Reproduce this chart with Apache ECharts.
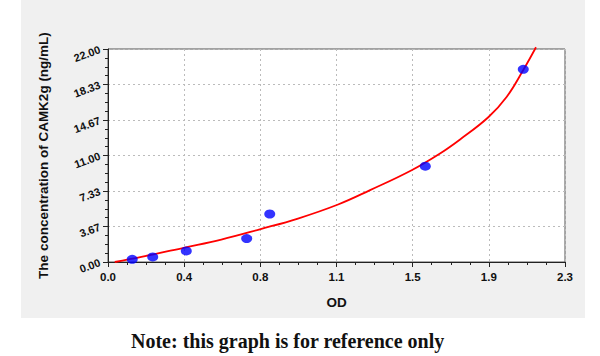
<!DOCTYPE html>
<html>
<head>
<meta charset="utf-8">
<script src="https://cdn.jsdelivr.net/npm/echarts@6/dist/echarts.min.js"></script>
<style>
html,body{margin:0;padding:0;background:#fff;}
#chart{width:600px;height:356px;}
</style>
</head>
<body>
<div id="chart"></div>
<script>
// Standard points (OD, concentration)
const pointOD   = [0.122, 0.225, 0.394, 0.698, 0.814, 1.597, 2.090];
const pointConc = [0.28, 0.52, 1.14, 2.42, 4.96, 9.90, 19.90];

// Fitted curve
const curveOD   = [0.034, 0.168, 0.386, 0.570, 0.764, 0.956, 1.158, 1.319, 1.528, 1.671, 1.772, 1.914, 2.007, 2.090, 2.154];
const curveConc = [0.00, 0.52, 1.49, 2.32, 3.38, 4.49, 5.94, 7.42, 9.48, 11.21, 12.66, 14.95, 17.07, 19.83, 22.18];

// Axes
const xMin = 0, xMax = 2.3, xSteps = 6;
const yMin = 0, yMax = 22, ySteps = 6;

const xTitle = 'OD';
const yTitle = 'The concentration of CAMK2g (ng/mL)';
const noteText = 'Note: this graph is for reference only';

const chart = echarts.init(document.getElementById('chart'), null, {renderer: 'svg'});

const axisCommon = {
  axisLine: {show: true, lineStyle: {color: '#222', width: 1}},
  axisTick: {show: true, inside: false, length: 5, lineStyle: {color: '#222'}},
  minorTick: {show: true, splitNumber: 4, length: 3, lineStyle: {color: '#222'}},
  splitLine: {show: true, lineStyle: {color: '#bbbbbb', type: [2, 3], width: 1}},
  nameTextStyle: {fontFamily: 'Liberation Sans', fontWeight: 'bold', fontSize: 13.5, color: '#111'}
};

chart.setOption({
  animation: false,
  backgroundColor: '#ffffff',
  graphic: [
    {type: 'rect', z: -10, shape: {x: 21, y: 0, width: 564, height: 318}, style: {fill: '#f0f0f0'}},
    {type: 'text', left: 131, top: 331, style: {text: noteText, font: 'bold 20px "Liberation Serif"', fill: '#111'}}
  ],
  grid: {left: 108, right: 35, top: 49, bottom: 94, show: true, backgroundColor: '#ffffff', borderColor: '#555', borderWidth: 1},
  xAxis: Object.assign({}, axisCommon, {
    type: 'value', min: xMin, max: xMax, interval: (xMax - xMin) / xSteps,
    name: xTitle, nameLocation: 'middle', nameGap: 33,
    axisLabel: {margin: 9, fontFamily: 'Liberation Sans', fontWeight: 'bold', fontSize: 11.5, color: '#111',
      formatter: v => v.toFixed(1)}
  }),
  yAxis: Object.assign({}, axisCommon, {
    type: 'value', min: yMin, max: yMax, interval: (yMax - yMin) / ySteps,
    name: yTitle, nameLocation: 'middle', nameGap: 58,
    axisLabel: {margin: 8, rotate: 20, fontFamily: 'Liberation Sans', fontWeight: 'bold', fontSize: 11, color: '#111',
      formatter: v => v.toFixed(2)}
  }),
  series: [
    {
      type: 'line', data: curveOD.map((x, i) => [x, curveConc[i]]),
      smooth: 0.4, showSymbol: false, clip: false,
      lineStyle: {color: '#ff0000', width: 1.8}, z: 3
    },
    {
      type: 'scatter', data: pointOD.map((x, i) => [x, pointConc[i]]),
      symbol: 'circle', symbolSize: [11, 9],
      itemStyle: {color: '#0000ff'}, z: 4
    }
  ]
});
</script>
</body>
</html>
